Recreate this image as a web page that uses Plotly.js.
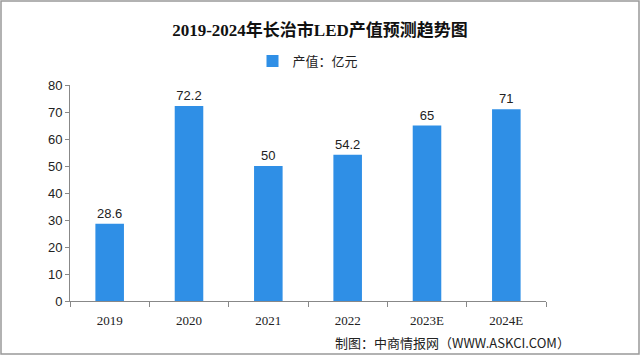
<!DOCTYPE html>
<html><head><meta charset="utf-8">
<script src="https://cdn.plot.ly/plotly-3.0.1.min.js"></script>
<style>html,body{margin:0;padding:0;background:#fff}#c{width:640px;height:358px}</style>
</head><body><div id="c"></div>
<script>
const categories = ["2019","2020","2021","2022","2023E","2024E"];
const values = [28.6, 72.2, 50, 54.2, 65, 71];
const labels = ["28.6","72.2","50","54.2","65","71"];
const seriesName = "产值：亿元";
const titleText = "2019-2024年长治市LED产值预测趋势图";
const sourceText = "制图：中商情报网（WWW.ASKCI.COM）";

const fnt = "Liberation Serif, 'Noto Sans CJK SC', serif";
Plotly.newPlot("c", [{
  type: "bar", x: categories, y: values, name: seriesName,
  marker: {color: "#2f8fe6"},
  text: labels, textposition: "outside", cliponaxis: false,
  textfont: {family: "Liberation Sans, Arial", size: 13, color: "#222"}
}], {
  width: 640, height: 358,
  margin: {l: 70, r: 94, t: 85, b: 57},
  paper_bgcolor: "#fff", plot_bgcolor: "#fff",
  bargap: 0.64,
  title: {text: "<b>" + titleText + "</b>", x: 0.5, xanchor: "center", y: 0.915, yanchor: "middle",
          font: {family: fnt, size: 17, color: "#111"}},
  showlegend: true,
  legend: {orientation: "h", x: 0.5, xanchor: "center", y: 1.111, yanchor: "middle",
           font: {family: "'Noto Sans CJK SC', sans-serif", size: 13, color: "#222"}, itemwidth: 30},
  xaxis: {type: "category", showline: true, linecolor: "#888", linewidth: 1,
          ticks: "outside", ticklen: 5, tickcolor: "#888", tickson: "boundaries", ticklabelstandoff: 7,
          tickfont: {family: "Liberation Serif, serif", size: 13, color: "#222"}, showgrid: false},
  yaxis: {range: [0, 80], dtick: 10, showline: true, linecolor: "#888", linewidth: 1,
          ticks: "outside", ticklen: 4, tickcolor: "#888", showgrid: false, zeroline: false,
          tickfont: {family: "Liberation Sans, Arial", size: 13, color: "#222"}},
  annotations: [{text: sourceText, xref: "paper", yref: "paper", x: 1.055, y: -0.194,
                 xanchor: "right", yanchor: "middle", showarrow: false,
                 font: {family: "'Noto Sans CJK SC', sans-serif", size: 13, color: "#222"}}],
  shapes: [{type: "rect", xref: "paper", yref: "paper", x0: -69 / 476, x1: 1 + 93 / 476,
            y0: -53 / 216, y1: 1 + 84 / 216, line: {color: "#999", width: 1.5}}]
}, {displayModeBar: false, staticPlot: true});
</script></body></html>
